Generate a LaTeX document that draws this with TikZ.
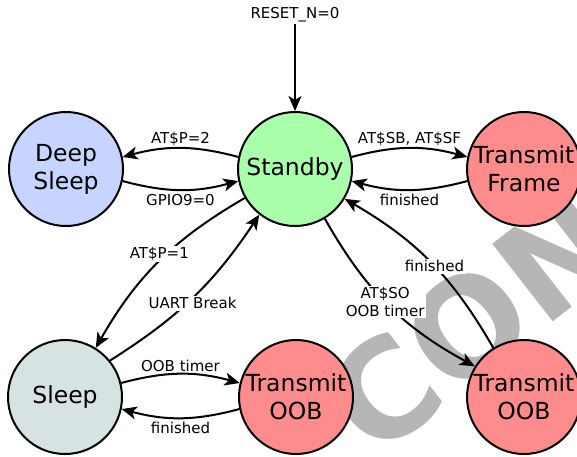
\documentclass[tikz,border=0pt]{standalone}
\usepackage{fontspec}
\setmainfont{DejaVu Sans}
\usetikzlibrary{arrows.meta}
\definecolor{cblue}{RGB}{198,212,255}
\definecolor{cgreen}{RGB}{170,255,170}
\definecolor{cred}{RGB}{255,140,140}
\definecolor{cgrey}{RGB}{215,227,227}
\definecolor{wm}{RGB}{182,182,182}
\tikzset{
 state/.style={circle, draw=black, line width=2pt, minimum size=114pt, inner sep=0pt, align=center, font=\fontsize{23.5}{28}\selectfont},
 trans/.style={line width=2pt, -{Stealth[length=15pt,width=13pt,inset=4pt]}},
 lbl/.style={font=\fontsize{15}{17.5}\selectfont, inner sep=1.5pt},
 onlbl/.style={lbl, fill=white},
}
\begin{document}
\begin{tikzpicture}[x=1pt,y=-1pt]
\useasboundingbox (0,0) rectangle (577,456);
\begin{scope}
\clip (0,0) rectangle (577,456);
\node[rotate=38, text=wm, inner sep=0pt, font=\bfseries\fontsize{135}{135}\selectfont] (wmk) at (473,322) {CON};
\end{scope}
\node[state, fill=cgreen] (sb) at (295,169) {Standby};
\node[state, fill=cblue] (ds) at (66,169) {Deep\\Sleep};
\node[state, fill=cred] (tf) at (524,169) {Transmit\\Frame};
\node[state, fill=cgrey] (sl) at (65,397) {Sleep};
\node[state, fill=cred] (tom) at (296,397) {Transmit\\OOB};
\node[state, fill=cred] (tor) at (524,397) {Transmit\\OOB};
\node[lbl] (rst) at (295,15) {RESET\_N=0};
\draw[trans] (rst) -- (sb);
\draw[trans] (sb.168) to[bend right=15] node[lbl, above] {AT\$P=2} (ds.12);
\draw[trans] (ds.-12) to[bend right=15] node[lbl, below=2pt] {GPIO9=0} (sb.192);
\draw[trans] (sb.12) to[bend left=15] node[lbl, above] {AT\$SB, AT\$SF} (tf.168);
\draw[trans] (tf.192) to[bend left=15] node[lbl, below=2pt] {finished} (sb.-12);
\draw[trans] (sl.14) to[bend left=15] node[lbl, above] {OOB timer} (tom.166);
\draw[trans] (tom.192) to[bend left=15] node[lbl, below=2pt] {finished} (sl.-12);
\draw[trans] (sb.210) to[bend right=15] node[onlbl, pos=0.4, xshift=-14pt, yshift=-6pt] {AT\$P=1} (sl.58);
\draw[trans] (sl.39) to[bend right=12] node[onlbl, pos=0.45, xshift=6pt] {UART Break} (sb.232);
\draw[trans] (sb.301) to[bend right=16] node[onlbl, pos=0.48, align=center] {AT\$SO\\OOB timer} (tor.148);
\draw[trans] (tor.122) to[bend right=15] node[onlbl, pos=0.47] {finished} (sb.-31);
\end{tikzpicture}
\end{document}
